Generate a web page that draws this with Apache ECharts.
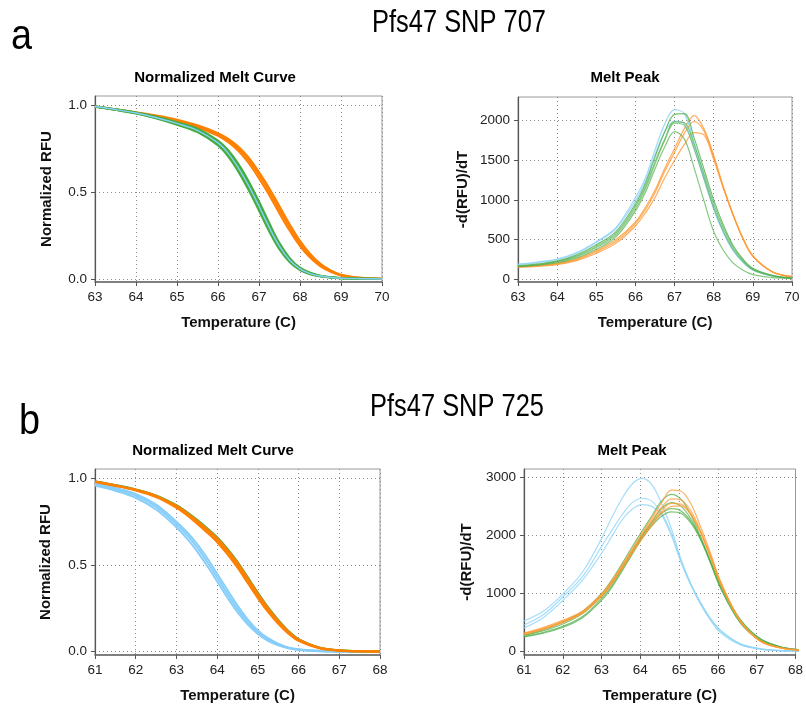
<!DOCTYPE html>
<html>
<head>
<meta charset="utf-8">
<script src="https://cdn.jsdelivr.net/npm/echarts@6/dist/echarts.min.js"></script>
<style>
  html, body { margin: 0; padding: 0; background: #fff; }
  #chart { width: 806px; height: 709px; }
</style>
</head>
<body>
<div id="chart"></div>
<script>
// temperatures (C) for panel a (SNP 707) and panel b (SNP 725)
const tempA = [63, 63.5, 64, 64.5, 65, 65.5, 66, 66.25, 66.5, 66.75, 67, 67.25, 67.5, 67.75, 68, 68.25, 68.5, 68.75, 69, 69.5, 70];
const tempB = [61, 61.5, 62, 62.5, 63, 63.25, 63.5, 63.75, 64, 64.25, 64.5, 64.75, 65, 65.25, 65.5, 65.75, 66, 66.5, 67, 67.5, 68];

// a: normalized melt curve
const meltA_orange1 = [0.995, 0.977, 0.958, 0.937, 0.911, 0.876, 0.826, 0.789, 0.738, 0.668, 0.580, 0.484, 0.378, 0.278, 0.190, 0.122, 0.073, 0.041, 0.020, 0.005, 0.001];
const meltA_orange2 = [0.995, 0.978, 0.960, 0.940, 0.915, 0.882, 0.835, 0.800, 0.752, 0.685, 0.600, 0.505, 0.400, 0.297, 0.205, 0.133, 0.080, 0.045, 0.022, 0.006, 0.001];
const meltA_orange3 = [0.995, 0.979, 0.962, 0.943, 0.919, 0.887, 0.842, 0.809, 0.763, 0.700, 0.617, 0.524, 0.420, 0.315, 0.220, 0.145, 0.088, 0.050, 0.025, 0.007, 0.001];
const meltA_green1 = [0.994, 0.976, 0.955, 0.926, 0.890, 0.847, 0.770, 0.706, 0.618, 0.512, 0.394, 0.274, 0.170, 0.096, 0.051, 0.027, 0.015, 0.008, 0.004, 0.001, 0];
const meltA_green2 = [0.995, 0.977, 0.957, 0.929, 0.895, 0.854, 0.779, 0.717, 0.630, 0.526, 0.408, 0.287, 0.180, 0.103, 0.055, 0.029, 0.016, 0.009, 0.005, 0.002, 0];
const meltA_blue = [0.995, 0.978, 0.958, 0.931, 0.898, 0.858, 0.785, 0.725, 0.640, 0.537, 0.420, 0.298, 0.188, 0.108, 0.058, 0.031, 0.017, 0.009, 0.005, 0.002, 0];
const meltA_green3 = [0.995, 0.979, 0.959, 0.933, 0.901, 0.862, 0.791, 0.733, 0.650, 0.549, 0.432, 0.309, 0.196, 0.114, 0.062, 0.033, 0.018, 0.010, 0.005, 0.002, 0];
const meltA_green4 = [0.996, 0.980, 0.961, 0.936, 0.905, 0.868, 0.799, 0.743, 0.663, 0.563, 0.447, 0.323, 0.207, 0.121, 0.066, 0.036, 0.019, 0.010, 0.006, 0.002, 0];

// a: melt peak -d(RFU)/dT
const peakA_blue1 = [189, 215, 253, 335, 472, 650, 1030, 1270, 1630, 1960, 2140, 2090, 1720, 1300, 900, 590, 360, 215, 120, 40, 10];
const peakA_blue2 = [180, 208, 245, 325, 460, 635, 990, 1230, 1570, 1860, 1995, 1960, 1650, 1260, 880, 580, 355, 210, 115, 38, 10];
const peakA_green1 = [165, 190, 228, 305, 432, 598, 950, 1200, 1540, 1860, 2080, 2090, 1780, 1390, 1000, 680, 420, 250, 135, 45, 12];
const peakA_green2 = [160, 183, 220, 290, 410, 575, 920, 1160, 1480, 1770, 1985, 1975, 1700, 1330, 950, 640, 395, 235, 125, 42, 11];
const peakA_green3 = [158, 180, 215, 280, 395, 555, 890, 1130, 1450, 1750, 1970, 1940, 1640, 1270, 900, 600, 370, 220, 115, 38, 10];
const peakA_green4 = [155, 175, 205, 265, 375, 530, 860, 1090, 1390, 1670, 1862, 1770, 1400, 990, 600, 360, 200, 110, 55, 18, 5];
const peakA_orange1 = [156, 170, 198, 255, 360, 495, 720, 900, 1120, 1400, 1650, 1900, 2065, 1900, 1560, 1160, 810, 510, 290, 90, 30];
const peakA_orange2 = [152, 165, 190, 245, 345, 475, 700, 870, 1090, 1360, 1600, 1840, 1990, 1870, 1540, 1150, 800, 505, 285, 88, 28];
const peakA_orange3 = [150, 160, 182, 232, 325, 450, 670, 830, 1030, 1280, 1500, 1700, 1850, 1820, 1510, 1140, 805, 510, 295, 92, 30];

// b: normalized melt curve
const meltB_blue1 = [0.958, 0.928, 0.888, 0.820, 0.718, 0.655, 0.582, 0.497, 0.405, 0.313, 0.228, 0.158, 0.102, 0.063, 0.037, 0.020, 0.010, 0.003, 0.001, 0, 0];
const meltB_blue2 = [0.965, 0.937, 0.900, 0.835, 0.735, 0.675, 0.604, 0.520, 0.428, 0.335, 0.247, 0.172, 0.112, 0.070, 0.042, 0.022, 0.012, 0.004, 0.001, 0, 0];
const meltB_blue3 = [0.972, 0.945, 0.910, 0.848, 0.750, 0.692, 0.624, 0.542, 0.450, 0.357, 0.266, 0.187, 0.123, 0.078, 0.047, 0.025, 0.014, 0.005, 0.001, 0, 0];
const meltB_green1 = [0.982, 0.961, 0.936, 0.901, 0.845, 0.807, 0.762, 0.713, 0.660, 0.594, 0.518, 0.430, 0.341, 0.257, 0.183, 0.120, 0.073, 0.025, 0.008, 0.002, 0.001];
const meltB_green2 = [0.981, 0.959, 0.933, 0.897, 0.839, 0.800, 0.753, 0.703, 0.649, 0.582, 0.505, 0.417, 0.329, 0.246, 0.175, 0.114, 0.068, 0.023, 0.007, 0.002, 0.001];
const meltB_orange1 = [0.979, 0.956, 0.929, 0.891, 0.830, 0.789, 0.740, 0.688, 0.631, 0.562, 0.484, 0.396, 0.309, 0.229, 0.161, 0.104, 0.062, 0.020, 0.006, 0.002, 0.001];
const meltB_orange2 = [0.980, 0.958, 0.932, 0.895, 0.836, 0.796, 0.749, 0.698, 0.643, 0.575, 0.498, 0.410, 0.322, 0.240, 0.170, 0.110, 0.066, 0.022, 0.007, 0.002, 0.001];
const meltB_orange3 = [0.981, 0.960, 0.935, 0.899, 0.842, 0.803, 0.757, 0.708, 0.655, 0.588, 0.512, 0.424, 0.335, 0.252, 0.179, 0.117, 0.071, 0.024, 0.008, 0.002, 0.001];

// b: melt peak
const peakB_blue1 = [530, 700, 1000, 1380, 1980, 2330, 2640, 2880, 2980, 2880, 2550, 2120, 1580, 1160, 810, 540, 330, 120, 45, 20, 10];
const peakB_blue2 = [460, 640, 950, 1300, 1840, 2100, 2360, 2560, 2640, 2590, 2390, 2040, 1560, 1160, 840, 570, 370, 140, 55, 22, 10];
const peakB_blue3 = [410, 590, 890, 1240, 1720, 2000, 2270, 2450, 2530, 2500, 2350, 2000, 1530, 1140, 820, 560, 360, 135, 50, 20, 10];
const peakB_green1 = [290, 380, 510, 700, 1020, 1250, 1520, 1800, 2070, 2330, 2590, 2705, 2620, 2350, 1960, 1530, 1100, 500, 200, 80, 30];
const peakB_green2 = [280, 360, 480, 660, 970, 1190, 1450, 1720, 1990, 2230, 2460, 2565, 2500, 2280, 1930, 1520, 1100, 510, 210, 85, 32];
const peakB_green3 = [265, 335, 440, 610, 930, 1150, 1420, 1700, 1970, 2200, 2380, 2460, 2420, 2240, 1950, 1560, 1150, 560, 230, 90, 35];
const peakB_green4 = [255, 320, 420, 590, 900, 1120, 1390, 1670, 1940, 2160, 2330, 2405, 2380, 2210, 1920, 1540, 1130, 550, 225, 88, 34];
const peakB_orange1 = [320, 420, 545, 700, 1010, 1230, 1490, 1760, 2030, 2300, 2560, 2780, 2760, 2540, 2140, 1690, 1220, 540, 190, 70, 28];
const peakB_orange2 = [310, 405, 530, 690, 1000, 1220, 1480, 1750, 2010, 2260, 2480, 2630, 2610, 2420, 2070, 1650, 1200, 540, 195, 72, 28];
const peakB_orange3 = [300, 395, 520, 680, 985, 1200, 1450, 1710, 1960, 2200, 2420, 2550, 2540, 2370, 2040, 1630, 1180, 530, 190, 70, 27];
const peakB_orange4 = [295, 385, 505, 665, 965, 1180, 1430, 1690, 1940, 2170, 2380, 2500, 2510, 2350, 2030, 1620, 1170, 525, 185, 68, 27];

const ORANGE = '#ff8000', GREEN = '#45ad3f', BLUE = '#87cefa';
const PK_ORANGE = '#ff9933', PK_GREEN = '#52b04c', PK_BLUE = '#8fd4f8';

const FAMILY = '"Liberation Sans", Arial, sans-serif';
const tickFont = { fontSize: 13.5, color: '#222', fontFamily: FAMILY };
const nameFont = { fontSize: 15, fontWeight: 'bold', color: '#111', fontFamily: FAMILY };
const dotted = { show: true, lineStyle: { type: [1, 3], color: '#8a8a8a', width: 1 } };

// panel boxes: frame (whole plot box) and data box (0 .. top tick)
const panels = [
  { frame: [95, 96, 287, 186], data: [95, 105.7, 287, 173.3], x: [63, 70], y: [0, 1], step: 0.5, gap: 41, yName: 'Normalized RFU' },
  { frame: [518, 97, 274, 185], data: [518, 120.7, 274, 158.3], x: [63, 70], y: [0, 2000], step: 500, gap: 48, yName: '-d(RFU)/dT' },
  { frame: [95, 469, 285, 186], data: [95, 478.3, 285, 173.4], x: [61, 68], y: [0, 1], step: 0.5, gap: 42, yName: 'Normalized RFU' },
  { frame: [524, 469, 275, 186], data: [524, 477.3, 275, 174.4], x: [61, 68], y: [0, 3000], step: 1000, gap: 50, yName: '-d(RFU)/dT' }
];

const grid = [], xAxis = [], yAxis = [];
panels.forEach(function (p) {
  grid.push({ left: p.frame[0], top: p.frame[1], width: p.frame[2], height: p.frame[3],
    show: true, borderColor: '#9a9a9a', borderWidth: 1, backgroundColor: 'transparent' });
  grid.push({ left: p.data[0], top: p.data[1], width: p.data[2], height: p.data[3] });
  const fi = grid.length - 2, di = grid.length - 1;
  xAxis.push({
    type: 'value', gridIndex: fi, min: p.x[0], max: p.x[1], interval: 1,
    axisLine: { show: true, lineStyle: { color: '#666', width: 1.5 } },
    axisTick: { show: true, length: 4, lineStyle: { color: '#555' } },
    axisLabel: Object.assign({ margin: 8 }, tickFont),
    splitLine: dotted,
    name: 'Temperature (C)', nameLocation: 'middle', nameGap: 33, nameTextStyle: nameFont
  });
  xAxis.push({ type: 'value', gridIndex: di, min: p.x[0], max: p.x[1], show: false });
  yAxis.push({
    type: 'value', gridIndex: fi, min: 0, max: 1,
    axisLine: { show: true, lineStyle: { color: '#555', width: 1.2 } },
    axisTick: { show: false }, axisLabel: { show: false }, splitLine: { show: false },
    name: p.yName, nameLocation: 'middle', nameGap: p.gap, nameTextStyle: nameFont
  });
  yAxis.push({
    type: 'value', gridIndex: di, min: p.y[0], max: p.y[1], interval: p.step,
    axisLine: { show: false },
    axisTick: { show: true, length: 4, lineStyle: { color: '#555' } },
    axisLabel: Object.assign({ margin: 8, formatter: function (v) { return p.step < 1 ? v.toFixed(1) : String(v); } }, tickFont),
    splitLine: dotted
  });
});

function line(panel, xs, ys, color, width, opacity) {
  return {
    type: 'line', xAxisIndex: panel * 2 + 1, yAxisIndex: panel * 2 + 1,
    data: xs.map(function (x, i) { return [x, ys[i]]; }),
    showSymbol: false, smooth: 0.35, clip: false, silent: true,
    lineStyle: { color: color, width: width, opacity: opacity }
  };
}

const series = [
  line(0, tempA, meltA_orange1, ORANGE, 2, 1),
  line(0, tempA, meltA_orange2, ORANGE, 2, 1),
  line(0, tempA, meltA_orange3, ORANGE, 2, 1),
  line(0, tempA, meltA_green1, GREEN, 2, 1),
  line(0, tempA, meltA_green2, GREEN, 2, 1),
  line(0, tempA, meltA_green3, GREEN, 2, 1),
  line(0, tempA, meltA_green4, GREEN, 2, 1),
  line(0, tempA, meltA_blue, BLUE, 1.5, 1),

  line(1, tempA, peakA_orange1, PK_ORANGE, 1.2, 0.8),
  line(1, tempA, peakA_orange2, PK_ORANGE, 1.2, 0.8),
  line(1, tempA, peakA_orange3, PK_ORANGE, 1.2, 0.8),
  line(1, tempA, peakA_blue1, PK_BLUE, 1.2, 0.85),
  line(1, tempA, peakA_blue2, PK_BLUE, 1.2, 0.85),
  line(1, tempA, peakA_green1, PK_GREEN, 1.2, 0.8),
  line(1, tempA, peakA_green2, PK_GREEN, 1.2, 0.7),
  line(1, tempA, peakA_green3, PK_GREEN, 1.2, 0.6),
  line(1, tempA, peakA_green4, PK_GREEN, 1.2, 0.7),

  line(2, tempB, meltB_blue1, BLUE, 2, 1),
  line(2, tempB, meltB_blue2, BLUE, 2, 1),
  line(2, tempB, meltB_blue3, BLUE, 2, 1),
  line(2, tempB, meltB_green1, GREEN, 2, 1),
  line(2, tempB, meltB_green2, GREEN, 2, 1),
  line(2, tempB, meltB_orange1, ORANGE, 2, 1),
  line(2, tempB, meltB_orange2, ORANGE, 2, 1),
  line(2, tempB, meltB_orange3, ORANGE, 2, 1),

  line(3, tempB, peakB_blue1, PK_BLUE, 1.2, 0.8),
  line(3, tempB, peakB_blue2, PK_BLUE, 1.2, 0.8),
  line(3, tempB, peakB_blue3, PK_BLUE, 1.2, 0.8),
  line(3, tempB, peakB_green1, PK_GREEN, 1.2, 0.75),
  line(3, tempB, peakB_green2, PK_GREEN, 1.2, 0.75),
  line(3, tempB, peakB_green3, PK_GREEN, 1.2, 0.75),
  line(3, tempB, peakB_green4, PK_GREEN, 1.2, 0.75),
  line(3, tempB, peakB_orange1, PK_ORANGE, 1.2, 0.75),
  line(3, tempB, peakB_orange2, PK_ORANGE, 1.2, 0.75),
  line(3, tempB, peakB_orange3, PK_ORANGE, 1.2, 0.75),
  line(3, tempB, peakB_orange4, PK_ORANGE, 1.2, 0.75)
];

function txt(x, y, text, font, align, sx) {
  return { type: 'text', x: x, y: y, scaleX: sx || 1, silent: true,
    style: { text: text, font: font, fill: '#000', align: align || 'center', verticalAlign: 'middle' } };
}
const graphic = [
  txt(11, 37, 'a', '42px ' + FAMILY, 'left', 0.9),
  txt(459, 23, 'Pfs47 SNP 707', '31px ' + FAMILY, 'center', 0.82),
  txt(19, 422, 'b', '42px ' + FAMILY, 'left', 0.9),
  txt(457, 407, 'Pfs47 SNP 725', '31px ' + FAMILY, 'center', 0.82),
  txt(215, 78, 'Normalized Melt Curve', 'bold 15px ' + FAMILY),
  txt(625, 78, 'Melt Peak', 'bold 15px ' + FAMILY),
  txt(213, 451, 'Normalized Melt Curve', 'bold 15px ' + FAMILY),
  txt(632, 451, 'Melt Peak', 'bold 15px ' + FAMILY)
];

const myChart = echarts.init(document.getElementById('chart'), null, { renderer: 'canvas' });
myChart.setOption({
  animation: false,
  backgroundColor: '#fff',
  grid: grid,
  xAxis: xAxis,
  yAxis: yAxis,
  series: series,
  graphic: graphic
});
window.addEventListener('resize', function () {
  myChart.resize();
});
</script>
</body>
</html>
